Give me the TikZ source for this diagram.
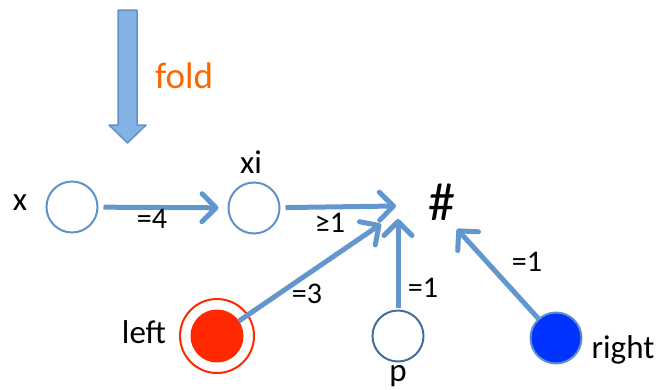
\documentclass[tikz,border=0pt]{standalone}
\usepackage{fontspec}
\setmainfont{Carlito}
\definecolor{lineblue}{RGB}{98,150,206}
\definecolor{ringblue}{RGB}{96,145,200}
\definecolor{darkring}{RGB}{70,110,155}
\definecolor{foldorange}{RGB}{255,102,0}
\definecolor{leftred}{RGB}{255,40,0}
\definecolor{rightblue}{RGB}{0,51,255}
\definecolor{foldblue}{RGB}{130,178,230}
\usetikzlibrary{arrows.meta}

\begin{document}
\begin{tikzpicture}[x=1pt,y=-1pt,
  state/.style={circle, draw=ringblue, line width=2pt, minimum size=51pt, inner sep=0pt},
  lbl/.style={anchor=base, inner sep=0pt, font=\fontsize{33}{35}\selectfont},
  wt/.style={anchor=base, inner sep=0pt, font=\fontsize{30}{32}\selectfont},
  link/.style={draw=lineblue, line width=5pt, -{Straight Barb[round, length=14pt, width=28pt]}}]
  \useasboundingbox (0,0) rectangle (659,389);
  %% fold arrow
  \filldraw[fill=foldblue, draw=ringblue, line width=1.5pt, line join=round]
    (118,10) -- (137,10) -- (137,125) -- (146,125) -- (127.5,143) -- (109,125) -- (118,125) -- cycle;
  \node[lbl, text=foldorange, font=\fontsize{37}{39}\selectfont] (fold) at (184,88) {fold};
  %% states
  \node[state] (x) at (72,207) {};
  \node[lbl] (xname) at (20,210) {x};
  \node[state] (xi) at (254,208) {};
  \node[lbl] (xiname) at (251,173) {xi};
  \node[font=\fontsize{54}{56}\selectfont] (hash) at (442,202) {\#};
  \node[state, draw=leftred, fill=leftred] (left) at (217,336) {};
  \draw[leftred, line width=2pt] (left.center) circle (37pt);
  \node[lbl] (leftname) at (144,343) {left};
  \node[state, draw=darkring] (p) at (398,336) {};
  \node[lbl] (pname) at (398,381) {p};
  \node[state, fill=rightblue] (right) at (556,338) {};
  \node[lbl] (rightname) at (623,358) {right};
  %% arrow ends next to #
  \coordinate (hxi) at (396,206);
  \coordinate (hleft) at (381,224);
  \coordinate (hp) at (398,219);
  \coordinate (hright) at (457,229);
  %% connectors
  \draw[link, shorten <=5pt, shorten >=9pt] (x) -- (xi);
  \draw[link, shorten <=5pt] (xi) -- (hxi);
  \draw[link] (left) -- (hleft);
  \draw[link, shorten <=2pt] (p) -- (hp);
  \draw[link] (right) -- (hright);
  %% weights
  \node[wt] (w4) at (152,228) {=4};
  \node[wt] (wge) at (330,232) {≥1};
  \node[wt] (w3) at (307,303) {=3};
  \node[wt] (wp) at (423,297) {=1};
  \node[wt] (wr) at (527,271) {=1};
\end{tikzpicture}
\end{document}
